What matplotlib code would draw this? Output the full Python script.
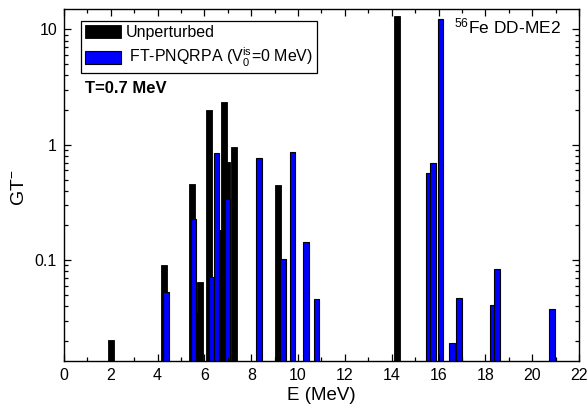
import matplotlib
matplotlib.use("Agg")
import matplotlib.pyplot as plt
from matplotlib.ticker import LogLocator, FixedLocator, MultipleLocator, FuncFormatter

plt.rcParams["font.family"] = ["Liberation Sans", "DejaVu Sans"]
plt.rcParams["mathtext.fontset"] = "custom"
plt.rcParams["mathtext.rm"] = "Liberation Sans"
plt.rcParams["mathtext.it"] = "Liberation Sans:italic"

# unperturbed strength (black)
unpert_e = [2.0, 4.28, 5.47, 5.75, 5.82, 6.20, 6.68, 6.82, 6.95, 7.26, 9.16, 14.24]
unpert_gt = [0.0192, 0.089, 0.457, 0.034, 0.064, 2.0, 0.18, 2.34, 0.71, 0.96, 0.445, 13.0]

# FT-PNQRPA strength (blue)
qrpa_e = [4.35, 5.53, 6.30, 6.52, 6.98, 8.32, 9.36, 9.76, 10.34, 10.78,
          15.58, 15.76, 16.08, 16.57, 16.88, 18.30, 18.51, 20.85]
qrpa_gt = [0.052, 0.226, 0.071, 0.848, 0.337, 0.77, 0.102, 0.86, 0.143, 0.045,
           0.57, 0.70, 12.4, 0.018, 0.046, 0.040, 0.083, 0.037]

fig = plt.figure(figsize=(5.88, 4.11), dpi=100)
ax = fig.add_axes([0.1088, 0.1217, 0.8759, 0.8564])

ax.set_yscale("log")
ax.bar(unpert_e, unpert_gt, width=0.26, bottom=1e-3, color="black",
       edgecolor="black", linewidth=0.6, label="Unperturbed")
ax.bar(qrpa_e, qrpa_gt, width=0.24, bottom=1e-3, color="#0000ff",
       edgecolor="black", linewidth=0.8,
       label=r" FT-PNQRPA (V$_\mathrm{0}^\mathrm{is}$=0 MeV)")

ax.set_xlim(0, 22)
ax.set_ylim(0.0134, 15)
ax.xaxis.set_major_locator(MultipleLocator(2))
ax.xaxis.set_minor_locator(MultipleLocator(1))
ax.yaxis.set_major_locator(FixedLocator([0.1, 1, 10]))
ax.yaxis.set_minor_locator(LogLocator(base=10, subs=range(2, 10)))
ax.yaxis.set_major_formatter(FuncFormatter(lambda v, p: "%g" % v))
ax.yaxis.set_minor_formatter(FuncFormatter(lambda v, p: ""))

ax.tick_params(which="both", direction="in", top=True, right=True,
               labelsize=11.5, width=0.9)
ax.tick_params(which="major", length=5, pad=5)
ax.tick_params(which="minor", length=3)
for s in ax.spines.values():
    s.set_linewidth(1.0)

leg = ax.legend(loc="upper left", bbox_to_anchor=(0.0324, 0.967),
                borderaxespad=0, fancybox=False, edgecolor="black",
                framealpha=1, fontsize=11.5, handlelength=2.25,
                handleheight=0.9, handletextpad=0.3, labelspacing=0.4,
                borderpad=0.25)
leg.get_frame().set_linewidth(0.9)

ax.text(0.041, 0.762, "T=0.7 MeV", transform=ax.transAxes,
        fontsize=12, fontweight="bold", va="baseline")
ax.text(0.757, 0.932, r"$^{\mathrm{56}}$Fe DD-ME2", transform=ax.transAxes,
        fontsize=12.5, va="baseline")

fig.text(20 / 588, 1 - 188 / 411, r"GT$^{-}$", rotation=90,
         fontsize=14, ha="center", va="center")
fig.text(321 / 588, 1 - 395 / 411, "E (MeV)", fontsize=13.5,
         ha="center", va="center")

fig.savefig("out.png", dpi=100)
